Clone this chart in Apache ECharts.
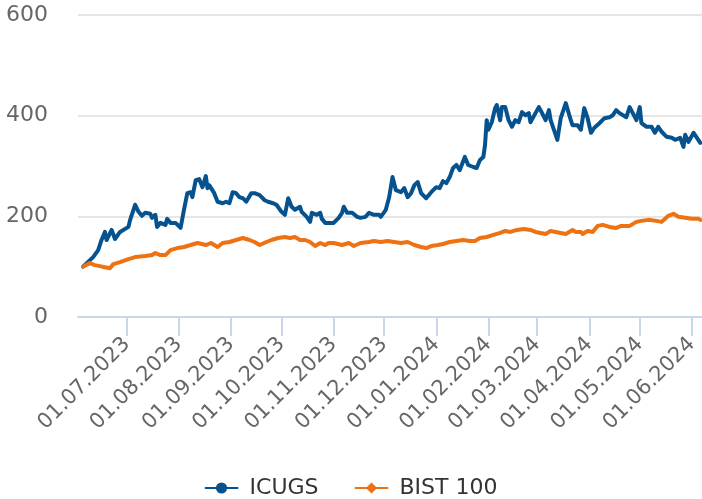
<!DOCTYPE html>
<html>
<head>
<meta charset="utf-8">
<title>ICUGS - BIST 100</title>
<script src="https://cdn.jsdelivr.net/npm/echarts@6/dist/echarts.min.js"></script>
<style>
    html, body { margin: 0; padding: 0; background: #fff; }
    #chart { width: 702px; height: 499px; }
</style>
</head>
<body>
<div id="chart"></div>
<script>
(function () {
    'use strict';

    // ICUGS (fon) ve BIST 100, baslangic = 100
    var icugsDates = [
        '2023-06-05','2023-06-11','2023-06-14','2023-06-16','2023-06-18','2023-06-19','2023-06-22','2023-06-24','2023-06-27',
        '2023-07-02','2023-07-03','2023-07-06','2023-07-08','2023-07-10','2023-07-12','2023-07-15','2023-07-16','2023-07-18',
        '2023-07-19','2023-07-21','2023-07-24','2023-07-25','2023-07-27','2023-07-30','2023-08-02','2023-08-04','2023-08-06',
        '2023-08-08','2023-08-09','2023-08-11','2023-08-13','2023-08-15','2023-08-17','2023-08-18','2023-08-19','2023-08-22',
        '2023-08-24','2023-08-27','2023-08-29','2023-08-31','2023-09-02','2023-09-04','2023-09-06','2023-09-08','2023-09-10',
        '2023-09-13','2023-09-15','2023-09-18','2023-09-21','2023-09-23','2023-09-26','2023-09-28','2023-10-01','2023-10-03',
        '2023-10-05','2023-10-07','2023-10-09','2023-10-12','2023-10-13','2023-10-16','2023-10-18','2023-10-19','2023-10-22',
        '2023-10-24','2023-10-25','2023-10-27','2023-10-29','2023-11-01','2023-11-04','2023-11-06','2023-11-07','2023-11-09',
        '2023-11-12','2023-11-15','2023-11-17','2023-11-20','2023-11-22','2023-11-25','2023-11-28','2023-11-29','2023-12-02',
        '2023-12-04','2023-12-06','2023-12-08','2023-12-11','2023-12-13','2023-12-15','2023-12-17','2023-12-19','2023-12-21',
        '2023-12-23','2023-12-26','2023-12-29','2024-01-01','2024-01-03','2024-01-05','2024-01-07','2024-01-09','2024-01-11',
        '2024-01-13','2024-01-15','2024-01-18','2024-01-20','2024-01-23','2024-01-25','2024-01-27','2024-01-29','2024-01-30',
        '2024-01-31','2024-02-01','2024-02-03','2024-02-05','2024-02-06','2024-02-08','2024-02-09','2024-02-11','2024-02-13',
        '2024-02-15','2024-02-17','2024-02-19','2024-02-21','2024-02-23','2024-02-25','2024-02-26','2024-02-29','2024-03-02',
        '2024-03-03','2024-03-06','2024-03-08','2024-03-09','2024-03-12','2024-03-13','2024-03-15','2024-03-18','2024-03-21',
        '2024-03-22','2024-03-25','2024-03-27','2024-03-29','2024-03-31','2024-04-02','2024-04-04','2024-04-07','2024-04-10',
        '2024-04-13','2024-04-15','2024-04-17','2024-04-19','2024-04-20','2024-04-23','2024-04-25','2024-04-26','2024-04-29',
        '2024-05-01','2024-05-02','2024-05-05','2024-05-06','2024-05-08','2024-05-10','2024-05-12','2024-05-14','2024-05-17',
        '2024-05-20','2024-05-22','2024-05-25','2024-05-27','2024-05-28','2024-05-30','2024-06-02','2024-06-04','2024-06-06'
    ];
    var icugsValues = [
        100, 119, 133, 153, 169, 153, 173, 155, 169,
        179, 193, 223, 209, 201, 207, 205, 197, 203,
        179, 187, 183, 195, 187, 187, 177, 213, 246,
        248, 238, 272, 274, 258, 280, 256, 262, 246,
        229, 226, 229, 226, 248, 246, 238, 236, 229,
        246, 246, 242, 232, 229, 226, 223, 209, 203,
        236, 219, 213, 219, 209, 199, 189, 207, 203,
        207, 195, 187, 187, 187, 197, 207, 219, 207,
        207, 199, 197, 199, 207, 203, 203, 199, 213,
        238, 278, 252, 248, 256, 238, 246, 262, 268,
        246, 236, 248, 258, 256, 270, 266, 278, 296,
        302, 292, 318, 302, 298, 296, 312, 318, 342,
        391, 372, 387, 415, 421, 391, 417, 417, 391,
        378, 391, 387, 407, 401, 405, 387, 405, 417,
        411, 391, 411, 391, 362, 352, 395, 425, 391,
        381, 381, 372, 415, 395, 366, 376, 385, 395,
        397, 401, 411, 405, 407, 397, 417, 415, 391,
        417, 385, 378, 376, 378, 366, 378, 368, 358,
        356, 352, 356, 338, 362, 348, 366, 356, 346
    ];

    var bistDates = [
        '2023-06-05','2023-06-09','2023-06-12','2023-06-15','2023-06-18','2023-06-21','2023-06-23','2023-06-27','2023-07-02',
        '2023-07-06','2023-07-12','2023-07-16','2023-07-18','2023-07-21','2023-07-24','2023-07-27','2023-07-31','2023-08-04',
        '2023-08-08','2023-08-12','2023-08-17','2023-08-20','2023-08-24','2023-08-27','2023-08-31','2023-09-04','2023-09-08',
        '2023-09-12','2023-09-15','2023-09-18','2023-09-22','2023-09-25','2023-09-29','2023-10-03','2023-10-06','2023-10-09',
        '2023-10-12','2023-10-15','2023-10-18','2023-10-21','2023-10-24','2023-10-27','2023-10-29','2023-11-01','2023-11-06',
        '2023-11-10','2023-11-13','2023-11-17','2023-11-22','2023-11-25','2023-11-29','2023-12-03','2023-12-07','2023-12-11',
        '2023-12-15','2023-12-19','2023-12-23','2023-12-26','2023-12-29','2024-01-02','2024-01-05','2024-01-09','2024-01-13',
        '2024-01-17','2024-01-21','2024-01-24','2024-01-27','2024-01-31','2024-02-04','2024-02-08','2024-02-11','2024-02-14',
        '2024-02-18','2024-02-22','2024-02-26','2024-02-29','2024-03-03','2024-03-06','2024-03-09','2024-03-12','2024-03-15',
        '2024-03-18','2024-03-22','2024-03-24','2024-03-27','2024-03-28','2024-03-31','2024-04-03','2024-04-06','2024-04-09',
        '2024-04-13','2024-04-17','2024-04-20','2024-04-25','2024-04-29','2024-05-02','2024-05-06','2024-05-11','2024-05-14',
        '2024-05-18','2024-05-21','2024-05-24','2024-05-28','2024-06-01','2024-06-05','2024-06-06'
    ];
    var bistValues = [
        100, 107, 103, 101, 99, 97, 105, 109, 115,
        119, 121, 123, 127, 123, 123, 133, 137, 139,
        143, 147, 143, 147, 139, 147, 149, 153, 157,
        153, 149, 143, 149, 153, 157, 159, 157, 159,
        153, 153, 149, 141, 147, 143, 147, 147, 143,
        147, 141, 147, 149, 151, 149, 151, 149, 147,
        149, 143, 139, 137, 141, 143, 145, 149, 151,
        153, 151, 151, 157, 159, 163, 167, 171, 169,
        173, 175, 173, 169, 167, 165, 171, 169, 167,
        165, 173, 169, 169, 165, 171, 169, 181, 183,
        179, 177, 181, 181, 189, 191, 193, 191, 189,
        201, 205, 199, 197, 195, 195, 193
    ];

    var monthTicks = [
        '2023-07-01','2023-08-01','2023-09-01','2023-10-01','2023-11-01','2023-12-01',
        '2024-01-01','2024-02-01','2024-03-01','2024-04-01','2024-05-01','2024-06-01'
    ];
    var axisStart = '2023-06-02';
    var axisEnd = '2024-06-07';

    function ts(s) {
        var p = s.split('-');
        return new Date(+p[0], +p[1] - 1, +p[2]).getTime();
    }
    function pad(n) { return (n < 10 ? '0' : '') + n; }
    function pairs(dates, values) {
        return dates.map(function (d, i) { return [ts(d), values[i]]; });
    }

    var font = 'DejaVu Sans, Lucida Grande, sans-serif';
    var tickValues = monthTicks.map(ts);

    var chart = echarts.init(document.getElementById('chart'), null, { renderer: 'canvas' });
    chart.setOption({
        animation: false,
        backgroundColor: '#ffffff',
        textStyle: { fontFamily: font },
        grid: { left: 78, right: 0, top: 15, bottom: 182 },
        legend: {
            bottom: 0,
            left: 'center',
            padding: 0,
            itemWidth: 32,
            itemHeight: 14,
            itemGap: 36,
            textStyle: { fontSize: 22, color: '#333333', fontFamily: font, padding: [0, 0, 0, 7] },
            data: ['ICUGS', 'BIST 100']
        },
        // tarih ekseni: zaman damgasi, etiketler ay baslarinda
        xAxis: {
            type: 'value',
            min: ts(axisStart),
            max: ts(axisEnd),
            axisLine: { show: true, lineStyle: { color: '#ccd6eb', width: 2 } },
            axisTick: {
                show: true,
                length: 19,
                customValues: tickValues,
                lineStyle: { color: '#ccd6eb', width: 2 }
            },
            splitLine: { show: false },
            axisLabel: {
                customValues: tickValues,
                rotate: 45,
                margin: 24,
                fontSize: 21,
                color: '#666666',
                fontFamily: font,
                formatter: function (v) {
                    var d = new Date(v);
                    return pad(d.getDate()) + '.' + pad(d.getMonth() + 1) + '.' + d.getFullYear();
                }
            }
        },
        yAxis: {
            type: 'value',
            min: 0,
            max: 600,
            interval: 200,
            axisLine: { show: false },
            axisTick: { show: false },
            splitLine: { lineStyle: { color: '#e6e6e6', width: 2 } },
            axisLabel: { margin: 30, fontSize: 22, color: '#666666', fontFamily: font }
        },
        series: [
            {
                name: 'ICUGS',
                type: 'line',
                symbol: 'circle',
                showSymbol: false,
                color: '#05528f',
                lineStyle: { width: 4, cap: 'round', join: 'round' },
                data: pairs(icugsDates, icugsValues)
            },
            {
                name: 'BIST 100',
                type: 'line',
                symbol: 'diamond',
                showSymbol: false,
                color: '#ee7112',
                lineStyle: { width: 4, cap: 'round', join: 'round' },
                data: pairs(bistDates, bistValues)
            }
        ]
    });
})();
</script>
</body>
</html>
